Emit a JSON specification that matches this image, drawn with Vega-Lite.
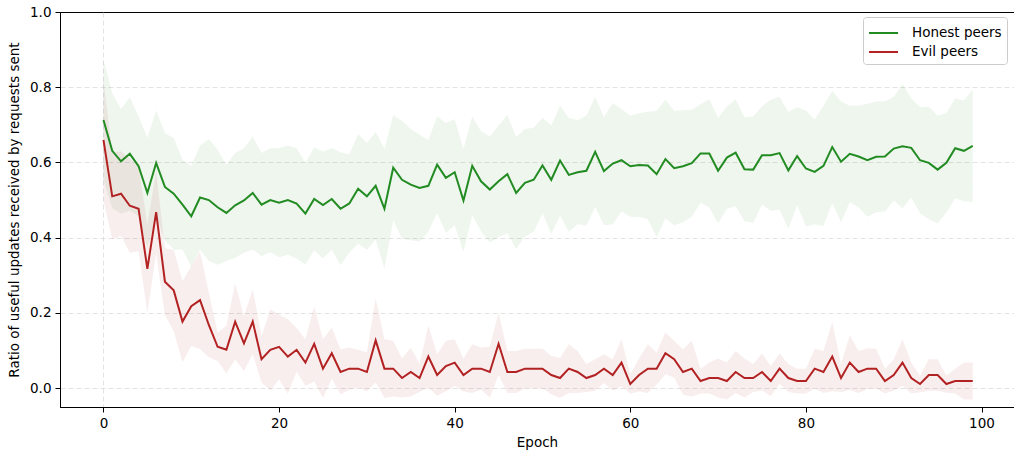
{
  "$schema": "https://vega.github.io/schema/vega-lite/v6.json",
  "width": 954,
  "height": 395,
  "autosize": {"type": "none"},
  "padding": {"left": 60, "top": 12, "right": 0, "bottom": 46},
  "background": "white",
  "config": {
    "font": "DejaVu Sans",
    "view": {"stroke": "black", "strokeWidth": 1},
    "axis": {
      "labelFont": "DejaVu Sans", "labelFontSize": 13.5, "labelColor": "black",
      "titleFont": "DejaVu Sans", "titleFontSize": 13.5, "titleFontWeight": "normal", "titleColor": "black",
      "domainColor": "black", "tickColor": "black", "tickSize": 5, "labelPadding": 4,
      "gridColor": "#cccccc", "gridDash": [5, 3], "gridWidth": 1,
      "gridOpacity": {"condition": {"test": "datum.value >= 1", "value": 0}, "value": 0.55}
    },
    "legend": {
      "labelFont": "DejaVu Sans", "labelFontSize": 13.5, "labelColor": "black"
    }
  },
  "data": {"values": [
{"epoch":0,"series":"Honest peers","mean":0.713,"lo":0.553,"hi":0.873},
{"epoch":1,"series":"Honest peers","mean":0.631,"lo":0.478,"hi":0.784},
{"epoch":2,"series":"Honest peers","mean":0.603,"lo":0.464,"hi":0.742},
{"epoch":3,"series":"Honest peers","mean":0.623,"lo":0.472,"hi":0.774},
{"epoch":4,"series":"Honest peers","mean":0.590,"lo":0.458,"hi":0.722},
{"epoch":5,"series":"Honest peers","mean":0.519,"lo":0.373,"hi":0.665},
{"epoch":6,"series":"Honest peers","mean":0.599,"lo":0.460,"hi":0.738},
{"epoch":7,"series":"Honest peers","mean":0.535,"lo":0.392,"hi":0.678},
{"epoch":8,"series":"Honest peers","mean":0.517,"lo":0.369,"hi":0.665},
{"epoch":9,"series":"Honest peers","mean":0.488,"lo":0.369,"hi":0.607},
{"epoch":10,"series":"Honest peers","mean":0.457,"lo":0.323,"hi":0.591},
{"epoch":11,"series":"Honest peers","mean":0.507,"lo":0.369,"hi":0.645},
{"epoch":12,"series":"Honest peers","mean":0.500,"lo":0.338,"hi":0.662},
{"epoch":13,"series":"Honest peers","mean":0.481,"lo":0.328,"hi":0.634},
{"epoch":14,"series":"Honest peers","mean":0.466,"lo":0.338,"hi":0.594},
{"epoch":15,"series":"Honest peers","mean":0.486,"lo":0.347,"hi":0.625},
{"epoch":16,"series":"Honest peers","mean":0.499,"lo":0.360,"hi":0.638},
{"epoch":17,"series":"Honest peers","mean":0.519,"lo":0.369,"hi":0.669},
{"epoch":18,"series":"Honest peers","mean":0.488,"lo":0.351,"hi":0.625},
{"epoch":19,"series":"Honest peers","mean":0.500,"lo":0.362,"hi":0.638},
{"epoch":20,"series":"Honest peers","mean":0.493,"lo":0.348,"hi":0.638},
{"epoch":21,"series":"Honest peers","mean":0.500,"lo":0.355,"hi":0.645},
{"epoch":22,"series":"Honest peers","mean":0.491,"lo":0.344,"hi":0.638},
{"epoch":23,"series":"Honest peers","mean":0.464,"lo":0.329,"hi":0.599},
{"epoch":24,"series":"Honest peers","mean":0.503,"lo":0.366,"hi":0.640},
{"epoch":25,"series":"Honest peers","mean":0.487,"lo":0.345,"hi":0.629},
{"epoch":26,"series":"Honest peers","mean":0.503,"lo":0.368,"hi":0.638},
{"epoch":27,"series":"Honest peers","mean":0.477,"lo":0.327,"hi":0.627},
{"epoch":28,"series":"Honest peers","mean":0.491,"lo":0.361,"hi":0.621},
{"epoch":29,"series":"Honest peers","mean":0.530,"lo":0.384,"hi":0.676},
{"epoch":30,"series":"Honest peers","mean":0.510,"lo":0.368,"hi":0.652},
{"epoch":31,"series":"Honest peers","mean":0.538,"lo":0.395,"hi":0.681},
{"epoch":32,"series":"Honest peers","mean":0.477,"lo":0.318,"hi":0.636},
{"epoch":33,"series":"Honest peers","mean":0.586,"lo":0.447,"hi":0.725},
{"epoch":34,"series":"Honest peers","mean":0.554,"lo":0.397,"hi":0.711},
{"epoch":35,"series":"Honest peers","mean":0.541,"lo":0.393,"hi":0.689},
{"epoch":36,"series":"Honest peers","mean":0.532,"lo":0.390,"hi":0.674},
{"epoch":37,"series":"Honest peers","mean":0.538,"lo":0.416,"hi":0.660},
{"epoch":38,"series":"Honest peers","mean":0.594,"lo":0.466,"hi":0.722},
{"epoch":39,"series":"Honest peers","mean":0.559,"lo":0.413,"hi":0.705},
{"epoch":40,"series":"Honest peers","mean":0.574,"lo":0.433,"hi":0.715},
{"epoch":41,"series":"Honest peers","mean":0.499,"lo":0.362,"hi":0.636},
{"epoch":42,"series":"Honest peers","mean":0.591,"lo":0.460,"hi":0.722},
{"epoch":43,"series":"Honest peers","mean":0.550,"lo":0.417,"hi":0.683},
{"epoch":44,"series":"Honest peers","mean":0.528,"lo":0.387,"hi":0.669},
{"epoch":45,"series":"Honest peers","mean":0.550,"lo":0.402,"hi":0.698},
{"epoch":46,"series":"Honest peers","mean":0.569,"lo":0.412,"hi":0.726},
{"epoch":47,"series":"Honest peers","mean":0.519,"lo":0.370,"hi":0.668},
{"epoch":48,"series":"Honest peers","mean":0.546,"lo":0.403,"hi":0.689},
{"epoch":49,"series":"Honest peers","mean":0.554,"lo":0.416,"hi":0.692},
{"epoch":50,"series":"Honest peers","mean":0.592,"lo":0.465,"hi":0.719},
{"epoch":51,"series":"Honest peers","mean":0.554,"lo":0.410,"hi":0.698},
{"epoch":52,"series":"Honest peers","mean":0.605,"lo":0.459,"hi":0.751},
{"epoch":53,"series":"Honest peers","mean":0.567,"lo":0.416,"hi":0.718},
{"epoch":54,"series":"Honest peers","mean":0.574,"lo":0.436,"hi":0.712},
{"epoch":55,"series":"Honest peers","mean":0.578,"lo":0.432,"hi":0.724},
{"epoch":56,"series":"Honest peers","mean":0.628,"lo":0.482,"hi":0.774},
{"epoch":57,"series":"Honest peers","mean":0.577,"lo":0.433,"hi":0.721},
{"epoch":58,"series":"Honest peers","mean":0.597,"lo":0.436,"hi":0.758},
{"epoch":59,"series":"Honest peers","mean":0.606,"lo":0.470,"hi":0.742},
{"epoch":60,"series":"Honest peers","mean":0.590,"lo":0.456,"hi":0.724},
{"epoch":61,"series":"Honest peers","mean":0.593,"lo":0.455,"hi":0.731},
{"epoch":62,"series":"Honest peers","mean":0.592,"lo":0.449,"hi":0.735},
{"epoch":63,"series":"Honest peers","mean":0.569,"lo":0.401,"hi":0.737},
{"epoch":64,"series":"Honest peers","mean":0.609,"lo":0.451,"hi":0.767},
{"epoch":65,"series":"Honest peers","mean":0.585,"lo":0.433,"hi":0.737},
{"epoch":66,"series":"Honest peers","mean":0.590,"lo":0.441,"hi":0.739},
{"epoch":67,"series":"Honest peers","mean":0.598,"lo":0.456,"hi":0.740},
{"epoch":68,"series":"Honest peers","mean":0.624,"lo":0.493,"hi":0.755},
{"epoch":69,"series":"Honest peers","mean":0.624,"lo":0.480,"hi":0.768},
{"epoch":70,"series":"Honest peers","mean":0.578,"lo":0.438,"hi":0.718},
{"epoch":71,"series":"Honest peers","mean":0.613,"lo":0.477,"hi":0.749},
{"epoch":72,"series":"Honest peers","mean":0.626,"lo":0.484,"hi":0.768},
{"epoch":73,"series":"Honest peers","mean":0.582,"lo":0.444,"hi":0.720},
{"epoch":74,"series":"Honest peers","mean":0.581,"lo":0.440,"hi":0.722},
{"epoch":75,"series":"Honest peers","mean":0.619,"lo":0.488,"hi":0.750},
{"epoch":76,"series":"Honest peers","mean":0.619,"lo":0.471,"hi":0.767},
{"epoch":77,"series":"Honest peers","mean":0.625,"lo":0.475,"hi":0.775},
{"epoch":78,"series":"Honest peers","mean":0.579,"lo":0.424,"hi":0.734},
{"epoch":79,"series":"Honest peers","mean":0.617,"lo":0.487,"hi":0.747},
{"epoch":80,"series":"Honest peers","mean":0.584,"lo":0.430,"hi":0.738},
{"epoch":81,"series":"Honest peers","mean":0.575,"lo":0.436,"hi":0.714},
{"epoch":82,"series":"Honest peers","mean":0.591,"lo":0.431,"hi":0.751},
{"epoch":83,"series":"Honest peers","mean":0.641,"lo":0.492,"hi":0.790},
{"epoch":84,"series":"Honest peers","mean":0.602,"lo":0.442,"hi":0.762},
{"epoch":85,"series":"Honest peers","mean":0.623,"lo":0.495,"hi":0.751},
{"epoch":86,"series":"Honest peers","mean":0.616,"lo":0.481,"hi":0.751},
{"epoch":87,"series":"Honest peers","mean":0.606,"lo":0.456,"hi":0.756},
{"epoch":88,"series":"Honest peers","mean":0.615,"lo":0.468,"hi":0.762},
{"epoch":89,"series":"Honest peers","mean":0.616,"lo":0.470,"hi":0.762},
{"epoch":90,"series":"Honest peers","mean":0.637,"lo":0.499,"hi":0.775},
{"epoch":91,"series":"Honest peers","mean":0.643,"lo":0.478,"hi":0.808},
{"epoch":92,"series":"Honest peers","mean":0.639,"lo":0.507,"hi":0.771},
{"epoch":93,"series":"Honest peers","mean":0.606,"lo":0.465,"hi":0.747},
{"epoch":94,"series":"Honest peers","mean":0.599,"lo":0.449,"hi":0.749},
{"epoch":95,"series":"Honest peers","mean":0.581,"lo":0.438,"hi":0.724},
{"epoch":96,"series":"Honest peers","mean":0.599,"lo":0.467,"hi":0.731},
{"epoch":97,"series":"Honest peers","mean":0.638,"lo":0.505,"hi":0.771},
{"epoch":98,"series":"Honest peers","mean":0.631,"lo":0.497,"hi":0.765},
{"epoch":99,"series":"Honest peers","mean":0.644,"lo":0.495,"hi":0.793},
{"epoch":0,"series":"Evil peers","mean":0.660,"lo":0.500,"hi":0.820},
{"epoch":1,"series":"Evil peers","mean":0.510,"lo":0.395,"hi":0.625},
{"epoch":2,"series":"Evil peers","mean":0.517,"lo":0.404,"hi":0.630},
{"epoch":3,"series":"Evil peers","mean":0.485,"lo":0.360,"hi":0.610},
{"epoch":4,"series":"Evil peers","mean":0.477,"lo":0.364,"hi":0.590},
{"epoch":5,"series":"Evil peers","mean":0.317,"lo":0.199,"hi":0.435},
{"epoch":6,"series":"Evil peers","mean":0.468,"lo":0.358,"hi":0.578},
{"epoch":7,"series":"Evil peers","mean":0.283,"lo":0.194,"hi":0.372},
{"epoch":8,"series":"Evil peers","mean":0.260,"lo":0.152,"hi":0.368},
{"epoch":9,"series":"Evil peers","mean":0.177,"lo":0.069,"hi":0.285},
{"epoch":10,"series":"Evil peers","mean":0.218,"lo":0.112,"hi":0.324},
{"epoch":11,"series":"Evil peers","mean":0.234,"lo":0.104,"hi":0.364},
{"epoch":12,"series":"Evil peers","mean":0.168,"lo":0.082,"hi":0.254},
{"epoch":13,"series":"Evil peers","mean":0.110,"lo":0.072,"hi":0.148},
{"epoch":14,"series":"Evil peers","mean":0.102,"lo":0.039,"hi":0.165},
{"epoch":15,"series":"Evil peers","mean":0.177,"lo":0.076,"hi":0.278},
{"epoch":16,"series":"Evil peers","mean":0.119,"lo":0.046,"hi":0.192},
{"epoch":17,"series":"Evil peers","mean":0.177,"lo":0.091,"hi":0.263},
{"epoch":18,"series":"Evil peers","mean":0.077,"lo":0.015,"hi":0.139},
{"epoch":19,"series":"Evil peers","mean":0.102,"lo":-0.006,"hi":0.210},
{"epoch":20,"series":"Evil peers","mean":0.110,"lo":0.024,"hi":0.196},
{"epoch":21,"series":"Evil peers","mean":0.084,"lo":-0.015,"hi":0.183},
{"epoch":22,"series":"Evil peers","mean":0.102,"lo":0.044,"hi":0.160},
{"epoch":23,"series":"Evil peers","mean":0.068,"lo":0.006,"hi":0.130},
{"epoch":24,"series":"Evil peers","mean":0.118,"lo":0.018,"hi":0.218},
{"epoch":25,"series":"Evil peers","mean":0.052,"lo":-0.026,"hi":0.130},
{"epoch":26,"series":"Evil peers","mean":0.093,"lo":0.025,"hi":0.161},
{"epoch":27,"series":"Evil peers","mean":0.043,"lo":-0.017,"hi":0.103},
{"epoch":28,"series":"Evil peers","mean":0.052,"lo":-0.004,"hi":0.108},
{"epoch":29,"series":"Evil peers","mean":0.052,"lo":0.002,"hi":0.102},
{"epoch":30,"series":"Evil peers","mean":0.043,"lo":-0.009,"hi":0.095},
{"epoch":31,"series":"Evil peers","mean":0.127,"lo":0.015,"hi":0.239},
{"epoch":32,"series":"Evil peers","mean":0.052,"lo":-0.026,"hi":0.130},
{"epoch":33,"series":"Evil peers","mean":0.052,"lo":-0.022,"hi":0.126},
{"epoch":34,"series":"Evil peers","mean":0.027,"lo":-0.025,"hi":0.079},
{"epoch":35,"series":"Evil peers","mean":0.043,"lo":-0.022,"hi":0.108},
{"epoch":36,"series":"Evil peers","mean":0.027,"lo":-0.010,"hi":0.064},
{"epoch":37,"series":"Evil peers","mean":0.084,"lo":0.001,"hi":0.167},
{"epoch":38,"series":"Evil peers","mean":0.035,"lo":-0.020,"hi":0.090},
{"epoch":39,"series":"Evil peers","mean":0.059,"lo":-0.008,"hi":0.126},
{"epoch":40,"series":"Evil peers","mean":0.068,"lo":0.006,"hi":0.130},
{"epoch":41,"series":"Evil peers","mean":0.035,"lo":-0.009,"hi":0.079},
{"epoch":42,"series":"Evil peers","mean":0.052,"lo":-0.013,"hi":0.117},
{"epoch":43,"series":"Evil peers","mean":0.052,"lo":-0.004,"hi":0.108},
{"epoch":44,"series":"Evil peers","mean":0.043,"lo":-0.025,"hi":0.111},
{"epoch":45,"series":"Evil peers","mean":0.118,"lo":0.035,"hi":0.201},
{"epoch":46,"series":"Evil peers","mean":0.043,"lo":-0.013,"hi":0.099},
{"epoch":47,"series":"Evil peers","mean":0.043,"lo":-0.013,"hi":0.099},
{"epoch":48,"series":"Evil peers","mean":0.052,"lo":-0.001,"hi":0.105},
{"epoch":49,"series":"Evil peers","mean":0.052,"lo":-0.001,"hi":0.105},
{"epoch":50,"series":"Evil peers","mean":0.052,"lo":-0.001,"hi":0.105},
{"epoch":51,"series":"Evil peers","mean":0.035,"lo":-0.016,"hi":0.086},
{"epoch":52,"series":"Evil peers","mean":0.027,"lo":-0.026,"hi":0.080},
{"epoch":53,"series":"Evil peers","mean":0.052,"lo":-0.013,"hi":0.117},
{"epoch":54,"series":"Evil peers","mean":0.043,"lo":-0.013,"hi":0.099},
{"epoch":55,"series":"Evil peers","mean":0.027,"lo":-0.010,"hi":0.064},
{"epoch":56,"series":"Evil peers","mean":0.035,"lo":-0.007,"hi":0.077},
{"epoch":57,"series":"Evil peers","mean":0.052,"lo":0.014,"hi":0.090},
{"epoch":58,"series":"Evil peers","mean":0.035,"lo":-0.007,"hi":0.077},
{"epoch":59,"series":"Evil peers","mean":0.068,"lo":0.006,"hi":0.130},
{"epoch":60,"series":"Evil peers","mean":0.011,"lo":-0.015,"hi":0.037},
{"epoch":61,"series":"Evil peers","mean":0.035,"lo":-0.009,"hi":0.079},
{"epoch":62,"series":"Evil peers","mean":0.052,"lo":-0.013,"hi":0.117},
{"epoch":63,"series":"Evil peers","mean":0.052,"lo":0.009,"hi":0.095},
{"epoch":64,"series":"Evil peers","mean":0.093,"lo":0.037,"hi":0.149},
{"epoch":65,"series":"Evil peers","mean":0.077,"lo":0.028,"hi":0.126},
{"epoch":66,"series":"Evil peers","mean":0.043,"lo":-0.017,"hi":0.103},
{"epoch":67,"series":"Evil peers","mean":0.052,"lo":-0.023,"hi":0.127},
{"epoch":68,"series":"Evil peers","mean":0.019,"lo":-0.014,"hi":0.052},
{"epoch":69,"series":"Evil peers","mean":0.027,"lo":-0.014,"hi":0.068},
{"epoch":70,"series":"Evil peers","mean":0.027,"lo":-0.025,"hi":0.079},
{"epoch":71,"series":"Evil peers","mean":0.019,"lo":-0.030,"hi":0.068},
{"epoch":72,"series":"Evil peers","mean":0.043,"lo":-0.013,"hi":0.099},
{"epoch":73,"series":"Evil peers","mean":0.027,"lo":-0.025,"hi":0.079},
{"epoch":74,"series":"Evil peers","mean":0.027,"lo":-0.010,"hi":0.064},
{"epoch":75,"series":"Evil peers","mean":0.043,"lo":-0.006,"hi":0.092},
{"epoch":76,"series":"Evil peers","mean":0.019,"lo":-0.021,"hi":0.059},
{"epoch":77,"series":"Evil peers","mean":0.052,"lo":0.012,"hi":0.092},
{"epoch":78,"series":"Evil peers","mean":0.027,"lo":-0.010,"hi":0.064},
{"epoch":79,"series":"Evil peers","mean":0.019,"lo":-0.014,"hi":0.052},
{"epoch":80,"series":"Evil peers","mean":0.019,"lo":-0.014,"hi":0.052},
{"epoch":81,"series":"Evil peers","mean":0.052,"lo":-0.001,"hi":0.105},
{"epoch":82,"series":"Evil peers","mean":0.043,"lo":-0.013,"hi":0.099},
{"epoch":83,"series":"Evil peers","mean":0.084,"lo":-0.008,"hi":0.176},
{"epoch":84,"series":"Evil peers","mean":0.027,"lo":-0.010,"hi":0.064},
{"epoch":85,"series":"Evil peers","mean":0.068,"lo":-0.005,"hi":0.141},
{"epoch":86,"series":"Evil peers","mean":0.043,"lo":-0.013,"hi":0.099},
{"epoch":87,"series":"Evil peers","mean":0.052,"lo":-0.002,"hi":0.106},
{"epoch":88,"series":"Evil peers","mean":0.052,"lo":-0.001,"hi":0.105},
{"epoch":89,"series":"Evil peers","mean":0.019,"lo":-0.014,"hi":0.052},
{"epoch":90,"series":"Evil peers","mean":0.035,"lo":-0.007,"hi":0.077},
{"epoch":91,"series":"Evil peers","mean":0.068,"lo":0.006,"hi":0.130},
{"epoch":92,"series":"Evil peers","mean":0.027,"lo":-0.014,"hi":0.068},
{"epoch":93,"series":"Evil peers","mean":0.011,"lo":-0.011,"hi":0.033},
{"epoch":94,"series":"Evil peers","mean":0.035,"lo":-0.007,"hi":0.077},
{"epoch":95,"series":"Evil peers","mean":0.035,"lo":-0.007,"hi":0.077},
{"epoch":96,"series":"Evil peers","mean":0.011,"lo":-0.012,"hi":0.034},
{"epoch":97,"series":"Evil peers","mean":0.019,"lo":-0.014,"hi":0.052},
{"epoch":98,"series":"Evil peers","mean":0.019,"lo":-0.030,"hi":0.068},
{"epoch":99,"series":"Evil peers","mean":0.019,"lo":-0.030,"hi":0.068}
  ]},
  "encoding": {
    "x": {
      "field": "epoch", "type": "quantitative",
      "scale": {"domain": [-4.95, 103.7], "nice": false, "zero": false},
      "axis": {"title": "Epoch", "values": [0, 20, 40, 60, 80, 100], "grid": true, "titlePadding": 6}
    },
    "color": {
      "field": "series", "type": "nominal",
      "scale": {"domain": ["Honest peers", "Evil peers"], "range": ["#228b22", "#b22222"]},
      "legend": {
        "title": null, "orient": "none", "legendX": 803, "legendY": 5,
        "symbolType": "M-1,0H1.9", "symbolStrokeWidth": 2, "symbolSize": 400, "symbolOpacity": 1,
        "rowPadding": 1, "labelOffset": 22, "padding": 5,
        "strokeColor": "#cccccc", "fillColor": "white", "cornerRadius": 3
      }
    }
  },
  "layer": [
    {
      "mark": {"type": "area", "opacity": 0.08, "clip": true},
      "encoding": {
        "y": {"field": "lo", "type": "quantitative",
              "scale": {"domain": [-0.05, 1.0], "nice": false, "zero": false},
              "axis": {"title": "Ratio of useful updates received by requests sent", "values": [0, 0.2, 0.4, 0.6, 0.8, 1.0], "format": ".1f", "grid": true, "titlePadding": 8}},
        "y2": {"field": "hi"},
        "detail": {"field": "series"}
      }
    },
    {
      "mark": {"type": "line", "strokeWidth": 2, "clip": true},
      "encoding": {
        "y": {"field": "mean", "type": "quantitative"}
      }
    }
  ]
}
